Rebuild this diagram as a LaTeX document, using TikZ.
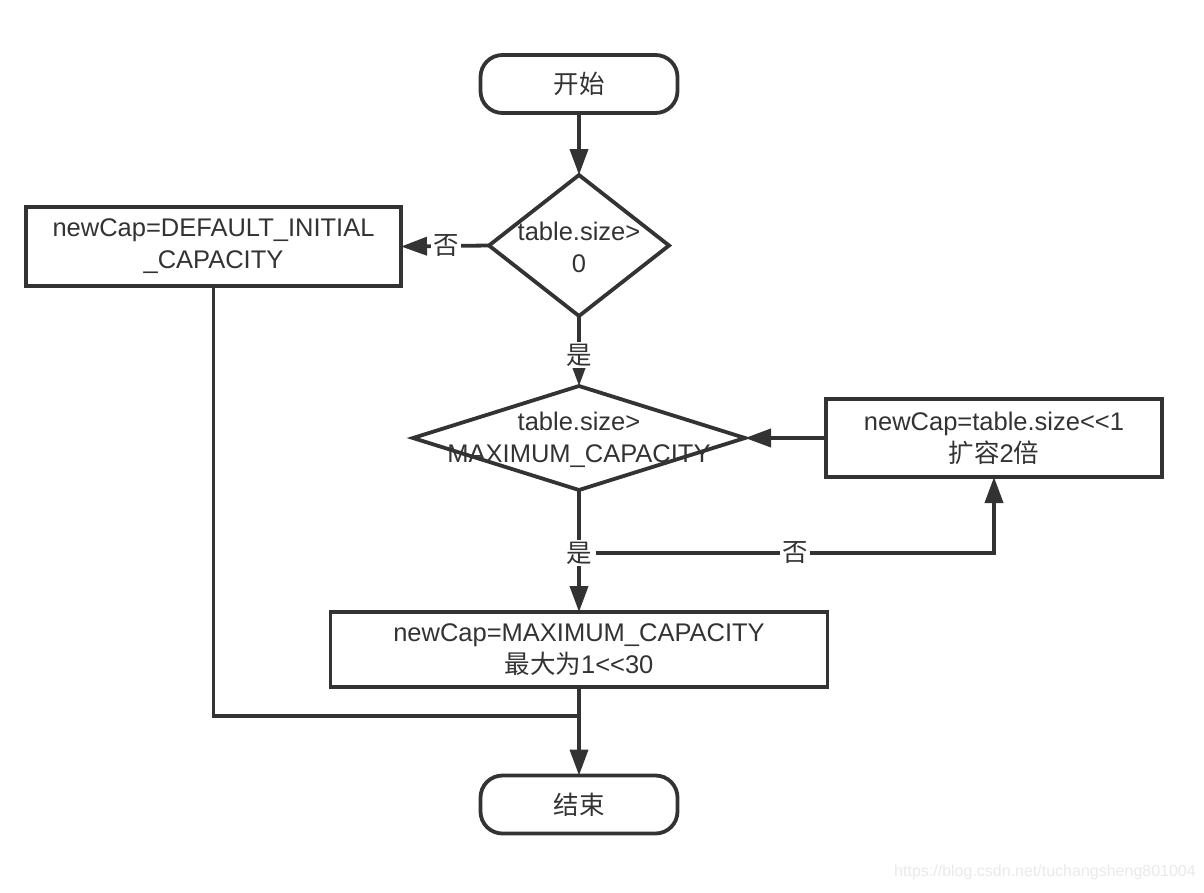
\documentclass[tikz,border=0pt]{standalone}
\usepackage{fontspec}
\setmainfont{Liberation Sans}
\newfontfamily\cjk{Noto Sans CJK SC}
\usetikzlibrary{arrows.meta,shapes.geometric}
\definecolor{lc}{HTML}{333333}
\definecolor{tc}{HTML}{333333}
\definecolor{wmc}{HTML}{EAEAEA}
\tikzset{
  line/.style={draw=lc, line width=3.8pt},
  arr/.style={line, -{Triangle[length=26pt,width=18pt]}},
  txt/.style={font=\fontsize{25.5pt}{32pt}\selectfont, text=tc, align=center},
  term/.style={draw=lc, line width=3.8pt, rounded corners=22pt, inner sep=0pt, outer sep=0pt, minimum width=197pt, minimum height=58pt, txt},
  proc/.style={draw=lc, line width=3.8pt, inner sep=0pt, outer sep=0pt, txt},
  dia/.style={diamond, draw=lc, line width=3.8pt, inner sep=0pt, outer sep=0pt},
  lbl/.style={fill=white, inner sep=2pt, txt},
}
\begin{document}
\begin{tikzpicture}[x=1pt,y=-1pt]
\useasboundingbox[fill=white] (0,0) rectangle (1204,892);
% nodes
\node[term] (start) at (579,84) {\cjk 开始};
\node[dia, minimum width=180pt, minimum height=141pt] (d1) at (579,245.5) {};
\node[txt] (d1t) at (579,247) {table.size>\\0};
\node[proc, minimum width=375pt, minimum height=79pt] (lbox) at (213.5,246.5) {newCap=DEFAULT\_INITIAL\\\_CAPACITY};
\node[dia, minimum width=332pt, minimum height=104pt] (d2) at (579,438) {};
\node[txt] (d2t) at (579,439.5) {table.size>\\MAXIMUM\_CAPACITY};
\node[proc, minimum width=336pt, minimum height=78pt] (rbox) at (994,438) {newCap=table.size<{}<1\\{\cjk 扩容}2{\cjk 倍}};
\node[proc, minimum width=497pt, minimum height=75pt] (box3) at (579,649.5) {newCap=MAXIMUM\_CAPACITY\\{\cjk 最大为}1<{}<30};
\node[term] (end) at (579,804.5) {\cjk 结束};
\coordinate (j) at (579,716);
% connectors
\draw[arr] (start.south) -- (d1.north);
\draw[arr] (d1.west) -- node[lbl, pos=0.49] {\cjk 否} (lbox.east);
\draw[arr] (d1.south) -- node[lbl, pos=0.56] {\cjk 是} (d2.north);
\draw[arr] (rbox.west) -- (d2.east);
\draw[arr] (d2.south) -- node[lbl, pos=0.516] (yes2) {\cjk 是} (box3.north);
\draw[arr] (yes2.east) -| node[lbl, pos=0.25] {\cjk 否} (rbox.south);
\draw[line] (lbox.south) |- (j);
\draw[arr] (box3.south) -- (end.north);
% watermark
\node[font=\fontsize{16pt}{18pt}\selectfont, text=wmc, anchor=east, inner sep=0pt] (wm) at (1196,872) {https://blog.csdn.net/tuchangsheng801004};
\end{tikzpicture}
\end{document}
